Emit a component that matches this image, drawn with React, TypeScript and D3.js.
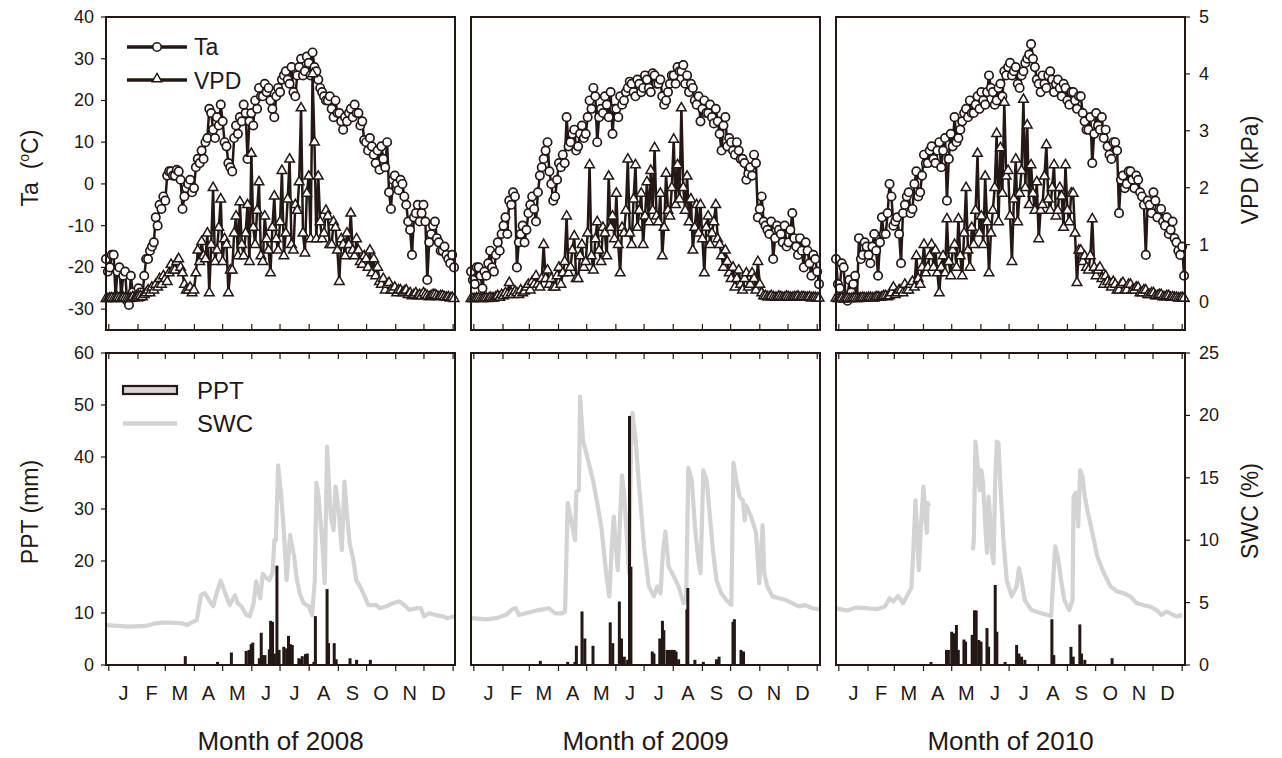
import React from 'react';
import * as d3 from 'd3';

// ---------------- data ----------------
const YEARS = [2008, 2009, 2010];
const MONTH_LABELS = ['J', 'F', 'M', 'A', 'M', 'J', 'J', 'A', 'S', 'O', 'N', 'D'];
const TA_TICKS = [-30, -20, -10, 0, 10, 20, 30, 40];
const VPD_TICKS = [0, 1, 2, 3, 4, 5];
const PPT_TICKS = [0, 10, 20, 30, 40, 50, 60];
const SWC_TICKS = [0, 5, 10, 15, 20, 25];

// Ta / VPD read roughly every 2 days, first reading at day -3
const SAMPLE_START = -3;
const SAMPLE_STEP = 2.033;

const ta2008 = [
  -18, -21, -20, -17, -17, -27, -21, -20, -27, -22, -21, -28, -29, -22, -26, -27, -27, -25, -26, -27,
  -22, -18, -18, -16, -15, -14, -8, -10, -5, -6, -3, -4, 2, 3, 3, 2, 2, 3.4, 3, 1,
  -6, -3, -1, 0, 1, -2, -1, 4, 6, 5, 8, 6, 10, 11, 18, 17, 13, 11, 16, 14,
  19, 15, 10, 9, 5, 4, 3, 11, 14, 12, 16, 15, 19, 17, 6, 15, 17, 14, 20, 18,
  23, 21, 21, 24, 22, 23, 20, 18, 16, 21, 23, 22, 25, 26, 27, 25, 24, 28, 22, 21,
  26, 28, 30, 26, 27, 30.5, 29, 26, 31.5, 28, 27, 25, 23, 22, 21, 20, 20, 21, 18, 16,
  20, 17, 17, 15, 13, 16, 15, 17, 18, 16, 19, 17, 17, 14, 15, 10.5, 10, 8, 11, 9,
  7, 5, 8, 3.4, 9, 6, 4, 10, -2, -6, 1, 2, 0, -1.5, 1, 0, -3, -5, -9, -11,
  -17, -8, -7, -5, -9, -7, -5, -9, -23, -14, -12, -10, -9, -13, -14, -16, -16, -15, -17, -18,
  -19, -17, -20,
];
const vpd2008 = [
  0.05, 0.05, 0.06, 0.06, 0.05, 0.05, 0.07, 0.06, 0.05, 0.07, 0.06, 0.05, 0.05, 0.06, 0.08, 0.06, 0.07, 0.1, 0.1, 0.08,
  0.12, 0.15, 0.2, 0.15, 0.25, 0.2, 0.3, 0.25, 0.4, 0.3, 0.45, 0.4, 0.35, 0.5, 0.65, 0.55, 0.55, 0.7, 0.75, 0.6,
  0.5, 0.3, 0.2, 0.2, 0.25, 0.15, 0.2, 0.5, 0.9, 0.7, 1.05, 0.8, 0.75, 1.2, 0.15, 1.0, 2.0, 0.7, 0.9, 1.3,
  1.8, 0.7, 1.1, 1.0, 0.15, 0.55, 0.55, 1.2, 1.5, 0.8, 1.75, 1.0, 0.8, 1.2, 1.7, 0.7, 2.6, 1.3, 1.0, 1.6,
  2.1, 0.8, 0.7, 1.5, 1.1, 0.9, 0.5, 1.3, 1.85, 1.1, 0.9, 1.4, 2.3, 0.8, 1.2, 1.8, 2.5, 1.0, 0.9, 1.7,
  1.6, 2.1, 3.4, 1.2, 0.85, 1.9, 2.2, 1.1, 4.0, 2.8, 1.1, 2.2, 1.4, 1.1, 1.2, 1.6, 1.5, 1.0, 1.0, 1.4,
  1.3, 0.9, 0.35, 1.1, 1.0, 0.8, 1.2, 1.0, 1.55, 0.9, 0.8, 1.1, 0.9, 0.7, 0.65, 0.8, 0.75, 0.6, 0.9, 0.5,
  0.75, 0.45, 0.6, 0.35, 0.3, 0.4, 0.2, 0.3, 0.33, 0.2, 0.2, 0.25, 0.15, 0.2, 0.2, 0.15, 0.18, 0.2, 0.12, 0.15,
  0.1, 0.12, 0.15, 0.1, 0.12, 0.1, 0.15, 0.12, 0.1, 0.08, 0.1, 0.12, 0.12, 0.1, 0.08, 0.1, 0.1, 0.08, 0.07, 0.08,
  0.06, 0.07, 0.05,
];
const ta2009 = [
  -21, -23, -24, -20, -20, -22, -25, -21, -22, -19, -16, -20, -21, -17, -14, -16, -12, -10, -8, -12,
  -4, -5, -2, -3, -20, -14, -12, -10, -14, -11, -7, -5, -3, -6, -9, -2, 2, 4, 6, 8,
  10, 3, 0, -4, -3, 1, 5, 4, 7, 5, 16, 9, 10, 12, 13, 8, 9, 12, 14, 11,
  12, 16, 20, 18, 23, 21, 10, 16, 18, 17, 21, 19, 16, 22, 12, 18, 18, 16, 21, 19,
  20, 22, 23, 24.5, 24, 22, 21, 25, 24, 22, 23, 26, 25, 23, 22, 26.5, 26, 24, 24, 25,
  21, 19, 20, 22, 24, 26, 26, 24, 28, 27, 27, 28.5, 24, 26, 22, 24, 23, 20, 19, 21,
  15, 18, 20, 17, 17, 19, 16, 14.5, 18, 15, 12, 8, 14, 16, 9, 11, 10, 8, 7, 10,
  8, 6, 6, 5, 1, 2.5, 4, 2, 7, 5, -8, -6, -3, -9, -10, -11, -12, -9, -18, -13,
  -10, -11, -12, -14, -10, -15, -14, -11, -7, -13, -15, -17, -13, -16, -20, -14, -16, -19, -22, -17,
  -18, -21, -24,
];
const vpd2009 = [
  0.05, 0.05, 0.05, 0.06, 0.06, 0.05, 0.05, 0.06, 0.06, 0.05, 0.07, 0.06, 0.06, 0.08, 0.1, 0.07, 0.12, 0.1, 0.15, 0.12,
  0.33, 0.15, 0.12, 0.18, 0.15, 0.12, 0.2, 0.15, 0.18, 0.25, 0.3, 0.2, 0.35, 0.3, 0.45, 0.3, 0.25, 0.4, 1.0, 0.4,
  0.55, 0.3, 0.4, 0.25, 0.25, 0.45, 0.6, 0.3, 0.5, 0.7, 1.5, 0.5, 0.6, 0.9, 1.15, 0.4, 0.4, 0.8, 1.0, 0.6,
  0.7, 1.2, 2.4, 0.8, 0.55, 1.1, 1.4, 0.9, 0.7, 1.3, 1.2, 0.8, 2.2, 1.3, 1.5, 1.1, 1.9, 1.0, 0.5, 1.3,
  1.2, 1.6, 2.5, 1.2, 1.0, 1.8, 2.4, 1.3, 1.6, 1.9, 1.0, 1.5, 2.1, 1.4, 2.3, 1.6, 2.7, 1.5, 1.4, 1.9,
  0.8, 1.3, 2.25, 1.6, 1.5, 2.0, 2.85, 1.7, 2.4, 1.8, 3.4, 2.0, 1.6, 2.2, 1.4, 1.8, 0.9, 1.3, 1.7, 1.2,
  1.7, 1.1, 0.5, 1.3, 1.5, 1.0, 1.2, 1.4, 1.7, 1.1, 1.0, 0.8, 0.6, 0.9, 0.7, 0.5, 0.4, 0.6, 0.25, 0.4,
  0.55, 0.3, 0.2, 0.4, 0.5, 0.25, 0.3, 0.5, 0.4, 0.2, 0.7, 0.3, 0.15, 0.1, 0.1, 0.08, 0.08, 0.1, 0.08, 0.07,
  0.07, 0.09, 0.08, 0.07, 0.07, 0.09, 0.08, 0.07, 0.07, 0.08, 0.08, 0.09, 0.07, 0.08, 0.08, 0.07, 0.07, 0.08, 0.06, 0.07,
  0.07, 0.06, 0.06,
];
const ta2010 = [
  -18, -24, -25, -19, -20, -27, -28, -23, -26, -24, -22, -27, -13, -18, -17, -14, -15, -17, -19, -15,
  -12, -16, -22, -14, -8, -12, -12, -7, 0, -3, -10, -9, -8, -12, -19, -7, -5, -3, -2, -7,
  -6, 0, 3, -3, -2, 2, 7, 5, 5, 8, 9, 6, 5, 8, 10, 4, 8, 11, -4, 6,
  12, 9, 16, 10, 11, 13, 15, 17, 18, 16, 20, 17, 17, 19, 21, 18, 22, 20, 19, 22,
  26, 23, 22, 19, 20, 23, 24, 21, 27, 26, 28, 29, 26, 27, 28, 24, 23, 26, 27, 29,
  30, 31, 33.5, 30, 28, 25, 24, 22, 26, 24, 23, 26, 27, 25, 22, 24, 25, 23, 21, 24,
  23, 20, 19, 22, 22, 20, 18, 21, 21, 17, 15, 13, 13, 16, 5, 12, 17, 14, 13, 16,
  11, 13, 9, 7, 6, 10, 10, 8, -7, 1, 2, -1, 0, 3, 3, 1, -1, 2, 1, -2,
  -3, -5, -17, -4, -5, -7, -2, -4, -8, -6, -6, -9, -10, -8, -12, -11, -9, -13, -14, -16,
  -17, -15, -22,
];
const vpd2010 = [
  0.06, 0.05, 0.05, 0.06, 0.04, 0.05, 0.06, 0.05, 0.05, 0.06, 0.06, 0.05, 0.05, 0.06, 0.07, 0.06, 0.06, 0.07, 0.07, 0.06,
  0.06, 0.08, 0.08, 0.07, 0.08, 0.1, 0.1, 0.08, 0.1, 0.15, 0.25, 0.12, 0.15, 0.2, 0.2, 0.15, 0.3, 0.2, 0.2, 0.3,
  0.35, 0.25, 0.8, 0.4, 0.3, 0.6, 1.0, 0.5, 0.6, 0.8, 1.0, 0.6, 0.9, 0.5, 0.15, 0.6, 0.8, 0.5, 1.45, 0.7,
  0.45, 0.9, 1.0, 0.6, 1.45, 0.8, 0.45, 1.2, 2.0, 0.9, 0.6, 1.3, 1.0, 1.6, 2.6, 1.2, 1.5, 1.0, 2.2, 1.4,
  0.5, 1.2, 1.6, 2.0, 2.95, 1.4, 2.7, 1.9, 3.5, 2.2, 2.3, 1.5, 0.7, 1.8, 2.5, 1.4, 1.9, 2.3, 3.55, 2.0,
  3.1, 1.7, 2.4, 1.9, 1.6, 2.1, 1.1, 1.6, 1.7, 2.2, 2.75, 1.8, 1.6, 2.0, 2.4, 1.5, 1.6, 2.0, 1.85, 1.3,
  2.4, 1.6, 1.4, 1.9, 1.9, 1.2, 0.33, 0.9, 0.9, 0.7, 0.8, 0.6, 0.55, 0.8, 1.45, 0.6, 0.45, 0.55, 0.6, 0.4,
  0.3, 0.45, 0.35, 0.3, 0.25, 0.35, 0.3, 0.2, 0.2, 0.3, 0.33, 0.2, 0.2, 0.3, 0.3, 0.2, 0.2, 0.25, 0.25, 0.15,
  0.15, 0.2, 0.2, 0.12, 0.12, 0.15, 0.15, 0.1, 0.1, 0.12, 0.12, 0.08, 0.08, 0.1, 0.1, 0.07, 0.08, 0.07, 0.07, 0.06,
  0.06, 0.07, 0.06,
];

// soil water content (%) as [day, value]; null = gap
const swc2008: [number, number | null][] = [[-3, 3.2], [22, 3.07], [39, 3.13], [50, 3.34], [57, 3.4], [67, 3.4], [78, 3.34], [83, 3.2], [90, 3.48], [93.5, 3.6], [98, 5.6], [102, 5.75], [107.5, 5.1], [111, 4.7], [114.5, 5.75], [119, 6.76], [124, 5.7], [128.5, 4.8], [134, 5.6], [137, 4.95], [141, 4.7], [146, 4.0], [149.6, 3.9], [154, 4.95], [156.6, 6.7], [159, 5.9], [161, 5.35], [163.6, 7.3], [167, 7.0], [170.6, 6.8], [174, 7.35], [176, 10.0], [177.6, 10.0], [180, 16.0], [183, 13.8], [186, 10.8], [189, 6.8], [192.7, 10.4], [197, 8.7], [200, 6.8], [203, 5.75], [207, 4.95], [212.6, 4.7], [216, 4.0], [219, 6.8], [220.7, 14.6], [223, 13.5], [227.7, 9.0], [229.5, 6.55], [232, 17.5], [233.6, 15.1], [236, 11.9], [239, 10.8], [241, 14.3], [244, 12.7], [247.7, 9.2], [250.5, 14.7], [253, 12.2], [256, 9.76], [260, 8.4], [263, 6.8], [267, 6.3], [272, 5.5], [275.7, 4.8], [284.5, 4.8], [288, 4.55], [295, 4.7], [302, 4.95], [309, 5.1], [314, 4.8], [319.5, 4.4], [326.5, 4.55], [331.7, 4.55], [335, 3.9], [340.5, 4.15], [347.5, 4.0], [354.5, 3.9], [360, 3.75], [368, 3.9]];
const swc2009: [number, number | null][] = [[-3, 3.75], [13, 3.66], [23.5, 3.75], [34, 4.0], [41, 4.47], [44.5, 4.55], [48, 4.0], [58.5, 4.2], [69, 4.4], [79.5, 4.55], [86.5, 4.14], [93.5, 4.14], [97, 4.28], [99.8, 13.0], [104, 11.4], [107.5, 10.0], [109, 13.9], [111.7, 14.0], [113, 21.5], [116, 18.0], [121.5, 16.4], [126.7, 14.8], [130, 13.5], [135.5, 11.1], [140.7, 7.35], [144, 5.5], [146.7, 9.5], [148.8, 11.9], [151, 9.5], [153, 7.6], [155.8, 12.2], [157.5, 15.2], [160, 13.5], [163.5, 9.2], [165, 7.35], [167, 17.2], [168.7, 20.2], [172, 18.0], [175.7, 14.3], [181, 9.5], [186, 6.3], [191.5, 5.5], [195, 6.3], [198.5, 5.75], [201, 9.0], [203.7, 10.7], [207, 7.9], [212.5, 7.1], [217.7, 6.3], [223, 4.95], [225.7, 5.2], [228, 15.8], [231.7, 14.8], [235, 11.1], [238.7, 8.4], [241, 7.35], [244, 15.6], [247.5, 14.8], [251, 11.9], [254.5, 9.0], [258, 6.8], [263, 5.75], [268.5, 5.2], [273.7, 4.8], [276, 16.2], [279, 14.8], [282.5, 13.5], [286, 13.2], [288, 11.6], [289.5, 12.8], [294.7, 11.9], [300, 10.6], [303.5, 6.55], [305, 8.7], [307, 11.2], [308.7, 7.35], [312, 6.3], [317.5, 5.5], [324.5, 5.35], [331.5, 5.2], [338.5, 4.95], [345.5, 4.7], [352.5, 4.8], [359.5, 4.55], [368, 4.47]];
const swc2010: [number, number | null][] = [[-3, 4.55], [8.75, 4.36], [19.25, 4.6], [29.75, 4.55], [40.25, 4.47], [49, 4.68], [54, 5.35], [57.75, 5.08], [63, 5.53], [68.25, 4.95], [73.5, 5.7], [77, 6.15], [78.75, 8.4], [81.5, 13.2], [83.3, 10.6], [85, 7.6], [87.5, 11.4], [90, 14.3], [92, 11.9], [93.5, 10.6], [94.5, 13.0], [96, 12.7], [120, null], [142.5, 9.2], [143.5, 10.0], [145.25, 17.9], [147.7, 15.9], [149.8, 14.0], [151.5, 15.6], [153.3, 14.6], [155.75, 11.1], [157.5, 9.0], [159.25, 13.5], [161, 11.6], [162.75, 9.0], [164.5, 8.15], [166.25, 14.8], [168, 17.9], [169.75, 17.8], [171.5, 14.8], [175, 10.0], [178.5, 6.8], [183.75, 5.5], [189, 6.3], [191.5, 7.75], [194.25, 6.8], [197.75, 5.2], [204.75, 4.4], [215.25, 4.14], [222.25, 4.0], [225.75, 3.9], [227.5, 6.3], [230, 9.5], [232.75, 8.7], [236.25, 6.8], [239.75, 5.2], [245, 4.4], [248.5, 5.2], [249.5, 13.5], [252, 13.8], [254.5, 11.1], [256.5, 15.6], [259, 15.1], [261.5, 13.5], [264.25, 12.4], [269.5, 10.6], [274.75, 8.7], [281.75, 7.35], [288.75, 6.3], [295.75, 5.9], [302.75, 5.75], [309.75, 5.5], [316.75, 4.95], [323.75, 4.8], [330.75, 4.68], [337.75, 4.4], [343, 4.0], [348.25, 4.28], [353.5, 4.1], [358.75, 3.9], [365, 4.0]];

// precipitation (mm) as [day, amount]
const ppt2008: [number, number][] = [[81.3, 1.7], [115.6, 0.6], [130.3, 2.4], [146, 2.7], [149, 2.9], [151.3, 4.0], [153, 4.3], [160, 1.3], [162, 6.2], [163.6, 1.9], [166, 1.9], [170.6, 3.0], [172, 8.5], [174, 8.3], [176, 2.2], [178.7, 19.1], [181, 2.9], [186, 3.5], [189, 3.2], [191, 5.6], [193, 4.0], [195, 3.85], [202, 1.3], [204, 1.1], [205.6, 1.7], [209, 2.1], [211, 2.2], [218, 0.6], [219.6, 9.4], [232, 14.6], [233.6, 4.2], [239.6, 4.2], [241.7, 1.1], [256.4, 1.3], [263.4, 1.0], [278, 1.0]];
const ppt2009: [number, number][] = [[70.7, 0.8], [99.8, 0.6], [107.5, 0.6], [109, 3.7], [115, 10.3], [118, 5.1], [126.7, 3.7], [145, 8.2], [147.7, 4.2], [154.7, 12.2], [157, 5.1], [160, 1.6], [163.5, 1.0], [165.5, 47.9], [167, 18.9], [189.7, 2.6], [191.5, 2.2], [197.7, 5.1], [200.5, 8.5], [202, 6.7], [205.5, 2.9], [208, 2.9], [210.7, 2.9], [213, 2.9], [215, 2.6], [217.7, 1.1], [226.5, 10.7], [227.5, 14.8], [235, 1.0], [244, 0.6], [258, 1.1], [260.7, 1.6], [275.5, 8.3], [277, 8.8], [284, 2.9], [286.7, 2.6]];
const ppt2010: [number, number][] = [[98, 0.6], [114.5, 2.9], [116.5, 2.9], [120, 6.4], [122.5, 6.1], [125, 7.7], [127, 2.9], [133, 4.9], [134.75, 4.5], [141.75, 5.8], [144.2, 10.5], [146, 10.5], [148.75, 4.8], [151.2, 4.5], [157.5, 7.1], [159.25, 3.5], [166.25, 15.4], [168, 6.4], [176.75, 0.6], [189, 3.85], [191.5, 2.2], [194.25, 1.6], [197.75, 1.0], [226.5, 8.8], [228.5, 1.9], [246.75, 3.5], [249.2, 1.6], [256.2, 7.8], [258, 2.2], [261.5, 1.0], [290.5, 1.3]];

const TA = [ta2008, ta2009, ta2010];
const VPD = [vpd2008, vpd2009, vpd2010];
const SWC = [swc2008, swc2009, swc2010];
const PPT = [ppt2008, ppt2009, ppt2010];

// ---------------- layout ----------------
const W = 1282;
const H = 758;
const PANEL_X = [106, 471, 836];
const PANEL_W = 349;
const TOP_Y0 = 17;
const TOP_Y1 = 330;
const BOT_Y0 = 353;
const BOT_Y1 = 665;
const INK = '#231815';
const SWC_COLOR = '#d3d3d3';
const FONT = "'Liberation Sans', Arial, Helvetica, sans-serif";
const NARROW = "'Liberation Sans Narrow', 'Arial Narrow', 'Liberation Sans', Arial, sans-serif";

const yTa = d3.scaleLinear().domain([-35, 40]).range([TOP_Y1, TOP_Y0]);
const yVpd = d3.scaleLinear().domain([-0.5, 5]).range([TOP_Y1, TOP_Y0]);
const yPpt = d3.scaleLinear().domain([0, 60]).range([BOT_Y1, BOT_Y0]);
const ySwc = d3.scaleLinear().domain([0, 25]).range([BOT_Y1, BOT_Y0]);

const triPath = d3.symbol().type(d3.symbolTriangle).size(40)() as string;

function sampled(vals: number[]): [number, number][] {
  return vals.map((v, k) => [SAMPLE_START + k * SAMPLE_STEP, v]);
}

function YearPanels({ idx }: { idx: number }) {
  const year = YEARS[idx];
  const x0 = PANEL_X[idx];
  const x = d3.scaleLinear().domain([-3, 368]).range([x0, x0 + PANEL_W]);
  const monthStart = d3.range(13).map((m) => d3.timeDay.count(new Date(year, 0, 1), new Date(year, m, 1)));
  const ta = sampled(TA[idx]);
  const vpd = sampled(VPD[idx]);
  const lineTa = d3.line<[number, number]>().x((d) => x(d[0])).y((d) => yTa(d[1]));
  const lineVpd = d3.line<[number, number]>().x((d) => x(d[0])).y((d) => yVpd(d[1]));
  const lineSwc = d3
    .line<[number, number | null]>()
    .defined((d) => d[1] !== null)
    .x((d) => x(d[0]))
    .y((d) => ySwc(d[1] as number));
  const bw = 3;
  return (
    <g>
      {/* ---------- top panel ---------- */}
      <path d={lineTa(ta) || ''} fill="none" stroke={INK} strokeWidth={2.5} strokeLinejoin="round" />
      {ta.map((d, k) => (
        <circle key={'c' + k} cx={x(d[0])} cy={yTa(d[1])} r={4.2} fill="#fff" stroke={INK} strokeWidth={1.7} />
      ))}
      <path d={lineVpd(vpd) || ''} fill="none" stroke={INK} strokeWidth={2.5} strokeLinejoin="round" />
      {vpd.map((d, k) => (
        <path key={'t' + k} d={triPath} transform={`translate(${x(d[0])},${yVpd(d[1])})`} fill="#fff" stroke={INK} strokeWidth={1.5} />
      ))}
      <rect x={x0} y={TOP_Y0} width={PANEL_W} height={TOP_Y1 - TOP_Y0} fill="none" stroke={INK} strokeWidth={2} />
      {monthStart.map((dd, m) => (
        <line key={'tm' + m} x1={x(dd)} x2={x(dd)} y1={TOP_Y1} y2={TOP_Y1 - 6} stroke={INK} strokeWidth={1.2} />
      ))}

      {/* ---------- bottom panel ---------- */}
      <path d={lineSwc(SWC[idx]) || ''} fill="none" stroke={SWC_COLOR} strokeWidth={4.2} strokeLinejoin="round" />
      {PPT[idx].map((d, k) => (
        <rect key={'b' + k} x={x(d[0]) - bw / 2} y={yPpt(d[1])} width={bw} height={BOT_Y1 - yPpt(d[1])} fill={INK} />
      ))}
      <rect x={x0} y={BOT_Y0} width={PANEL_W} height={BOT_Y1 - BOT_Y0} fill="none" stroke={INK} strokeWidth={2} />
      {monthStart.map((dd, m) => (
        <g key={'bm' + m}>
          <line x1={x(dd)} x2={x(dd)} y1={BOT_Y1} y2={BOT_Y1 + 6} stroke={INK} strokeWidth={1.2} />
          <line x1={x(dd)} x2={x(dd)} y1={BOT_Y0} y2={BOT_Y0 + 6} stroke={INK} strokeWidth={1.2} />
        </g>
      ))}
      {MONTH_LABELS.map((lab, m) => (
        <text
          key={'ml' + m}
          x={x((monthStart[m] + monthStart[m + 1]) / 2)}
          y={700}
          textAnchor="middle"
          fontFamily={NARROW}
          fontSize={20}
          fill={INK}
        >
          {lab}
        </text>
      ))}
      <text x={x0 + PANEL_W / 2} y={750} textAnchor="middle" fontFamily={NARROW} fontSize={26} fill={INK}>
        {`Month of ${year}`}
      </text>
    </g>
  );
}

export default function App() {
  const xl = PANEL_X[0];
  const xr = PANEL_X[2] + PANEL_W;
  return (
    <svg width={W} height={H} viewBox={`0 0 ${W} ${H}`} style={{ position: 'absolute', left: 0, top: 0, background: '#fff' }}>
      <rect x={0} y={0} width={W} height={H} fill="#fff" />
      {YEARS.map((_, i) => (
        <YearPanels key={i} idx={i} />
      ))}

      {/* left axes */}
      {TA_TICKS.map((t) => (
        <g key={'ta' + t}>
          <line x1={xl} x2={xl - 5} y1={yTa(t)} y2={yTa(t)} stroke={INK} strokeWidth={1.2} />
          <text x={xl - 12} y={yTa(t) + 6} textAnchor="end" fontFamily={FONT} fontSize={18} fill={INK}>
            {t}
          </text>
        </g>
      ))}
      {PPT_TICKS.map((t) => (
        <g key={'pp' + t}>
          <line x1={xl} x2={xl - 5} y1={yPpt(t)} y2={yPpt(t)} stroke={INK} strokeWidth={1.2} />
          <text x={xl - 12} y={yPpt(t) + 6} textAnchor="end" fontFamily={FONT} fontSize={18} fill={INK}>
            {t}
          </text>
        </g>
      ))}
      {/* right axes */}
      {VPD_TICKS.map((t) => (
        <g key={'vp' + t}>
          <line x1={xr} x2={xr + 5} y1={yVpd(t)} y2={yVpd(t)} stroke={INK} strokeWidth={1.2} />
          <text x={xr + 14} y={yVpd(t) + 6} textAnchor="start" fontFamily={FONT} fontSize={18} fill={INK}>
            {t}
          </text>
        </g>
      ))}
      {SWC_TICKS.map((t) => (
        <g key={'sw' + t}>
          <line x1={xr} x2={xr + 5} y1={ySwc(t)} y2={ySwc(t)} stroke={INK} strokeWidth={1.2} />
          <text x={xr + 14} y={ySwc(t) + 6} textAnchor="start" fontFamily={FONT} fontSize={18} fill={INK}>
            {t}
          </text>
        </g>
      ))}

      {/* axis titles */}
      <text transform="translate(38,168) rotate(-90)" textAnchor="middle" fontFamily={FONT} fontSize={23} fill={INK}>
        Ta{'\u00A0\u00A0'}(<tspan fontSize={14} dy={-9}>o</tspan>
        <tspan dy={9}>C)</tspan>
      </text>
      <text transform="translate(38,512) rotate(-90)" textAnchor="middle" fontFamily={FONT} fontSize={23} fill={INK}>
        PPT (mm)
      </text>
      <text transform="translate(1258,170) rotate(-90)" textAnchor="middle" fontFamily={FONT} fontSize={23} fill={INK}>
        VPD (kPa)
      </text>
      <text transform="translate(1258,511) rotate(-90)" textAnchor="middle" fontFamily={FONT} fontSize={23} fill={INK}>
        SWC (%)
      </text>

      {/* legend: top */}
      <line x1={127} x2={187} y1={47} y2={47} stroke={INK} strokeWidth={3.5} />
      <circle cx={157} cy={47} r={4.2} fill="#fff" stroke={INK} strokeWidth={1.6} />
      <text x={194} y={55} fontFamily={FONT} fontSize={23} fill={INK}>
        Ta
      </text>
      <line x1={127} x2={187} y1={80} y2={80} stroke={INK} strokeWidth={3.5} />
      <path d={triPath} transform="translate(157,79)" fill="#fff" stroke={INK} strokeWidth={1.4} />
      <text x={194} y={89} fontFamily={FONT} fontSize={23} fill={INK}>
        VPD
      </text>

      {/* legend: bottom */}
      <rect x={123} y={386} width={54} height={8} fill="#dcd3d6" stroke={INK} strokeWidth={2.2} />
      <text x={197} y={399} fontFamily={FONT} fontSize={24} fill={INK}>
        PPT
      </text>
      <line x1={123} x2={177} y1={423.5} y2={423.5} stroke={SWC_COLOR} strokeWidth={4.5} />
      <text x={197} y={432} fontFamily={FONT} fontSize={24} fill={INK}>
        SWC
      </text>
    </svg>
  );
}
